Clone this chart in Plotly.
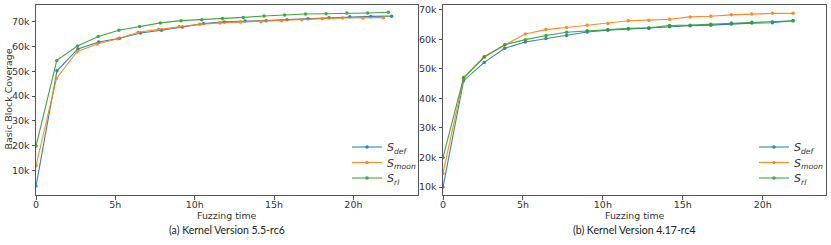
import plotly.graph_objects as go

# ---------------- data ----------------
xt_vals = [0, 5, 10, 15, 20]
xt_text = ["0", "5h", "10h", "15h", "20h"]
yt_vals = [10000, 20000, 30000, 40000, 50000, 60000, 70000]
yt_text = ["10k", "20k", "30k", "40k", "50k", "60k", "70k"]

# (a) Kernel 5.5-rc6
a_t_def = [0, 1.32, 2.64, 3.95, 5.27, 6.59, 7.91, 9.23, 10.55, 11.86, 13.18, 14.5, 15.82, 17.14, 18.46, 19.77, 21.09, 22.41]
a_def = [3800, 50200, 59000, 61800, 63300, 65400, 66500, 67800, 69200, 69900, 70300, 70400, 70800, 71200, 71600, 72000, 72100, 72200]
a_t_moon = [0, 1.29, 2.58, 3.86, 5.15, 6.44, 7.73, 9.02, 10.31, 11.59, 12.88, 14.17, 15.46, 16.75, 18.04, 19.32, 20.61, 21.9]
a_moon = [12000, 47100, 57900, 61000, 63100, 65700, 66900, 68000, 68900, 69500, 69900, 70000, 70400, 70800, 71200, 71500, 71500, 71600]
a_t_rl = [0, 1.31, 2.61, 3.92, 5.22, 6.53, 7.84, 9.14, 10.45, 11.75, 13.06, 14.37, 15.67, 16.98, 18.28, 19.59, 20.9, 22.2]
a_rl = [19900, 54400, 60200, 64000, 66500, 68000, 69500, 70400, 70800, 71300, 71700, 72300, 72700, 73100, 73200, 73500, 73500, 73800]

# (b) Kernel 4.17-rc4
b_t = [0, 1.29, 2.58, 3.86, 5.15, 6.44, 7.73, 9.02, 10.31, 11.59, 12.88, 14.17, 15.46, 16.75, 18.04, 19.32, 20.61, 21.9]
b_def = [10000, 46000, 52200, 57000, 59100, 60300, 61300, 62500, 63100, 63500, 63700, 64300, 64600, 64800, 65200, 65500, 65600, 66300]
b_moon = [14700, 46800, 53900, 58100, 61800, 63300, 64000, 64800, 65400, 66300, 66500, 66800, 67600, 67800, 68300, 68600, 68800, 68800]
b_rl = [20000, 47100, 54100, 58200, 59900, 61300, 62400, 62900, 63300, 63700, 63900, 64700, 64800, 65100, 65500, 65800, 66000, 66300]

names = ["<i>S</i><sub><i>def</i></sub>", "<i>S</i><sub><i>moon</i></sub>", "<i>S</i><sub><i>rl</i></sub>"]
colors = ["#1f77b4", "#ff7f0e", "#2ca02c"]

W, H = 831, 245
fig = go.Figure()

legend_rows = [147, 162.5, 178]   # pixel rows of legend entries
legend_x = {"a": 347, "b": 754}
legfont = dict(family="DejaVu Sans", size=11, color="#333")
legends = {}
counter = [0]

def add(x, y, i, xa, ya, panel):
    counter[0] += 1
    key = "legend" if counter[0] == 1 else "legend%d" % counter[0]
    legends[key] = dict(x=legend_x[panel] / W, y=1 - legend_rows[i] / H, xanchor="left", yanchor="middle",
                        bgcolor="rgba(0,0,0,0)", font=legfont, itemwidth=30)
    fig.add_trace(go.Scatter(
        x=x, y=y, mode="lines+markers", name=names[i],
        line=dict(color=colors[i], width=1.1),
        marker=dict(color=colors[i], size=3.5, symbol="circle"),
        xaxis=xa, yaxis=ya, legend=key, opacity=0.9,
    ))

add(a_t_def, a_def, 0, "x", "y", "a")
add(a_t_moon, a_moon, 1, "x", "y", "a")
add(a_t_rl, a_rl, 2, "x", "y", "a")
add(b_t, b_def, 0, "x2", "y2", "b")
add(b_t, b_moon, 1, "x2", "y2", "b")
add(b_t, b_rl, 2, "x2", "y2", "b")

tickfont = dict(family="DejaVu Sans", size=9.5, color="#333")
frame = dict(showline=True, mirror=True, linecolor="#555", linewidth=1,
             showgrid=False, zeroline=False, ticks="outside", ticklen=3.5,
             tickcolor="#555", tickfont=tickfont, automargin=False)

yd = [1 - 195 / H, 1 - 4.5 / H]
fig.update_layout(
    width=W, height=H, margin=dict(l=0, r=0, t=0, b=0, autoexpand=False),
    paper_bgcolor="white", plot_bgcolor="white",
    xaxis=dict(domain=[36 / W, 418 / W], range=[0, 24.07], tickvals=xt_vals, ticktext=xt_text, anchor="y",
               ticklabelstandoff=-3, **frame),
    yaxis=dict(domain=yd, range=[200, 76900], tickvals=yt_vals, ticktext=yt_text, anchor="x", **frame),
    xaxis2=dict(domain=[443 / W, 826 / W], range=[0, 23.96], tickvals=xt_vals, ticktext=xt_text, anchor="y2",
                ticklabelstandoff=-3, **frame),
    yaxis2=dict(domain=yd, range=[7300, 71800], tickvals=yt_vals, ticktext=yt_text, anchor="x2", **frame),
    showlegend=True,
    **legends,
)

ann_font = dict(family="DejaVu Sans", size=9.4, color="#333")
cap_font = dict(family="Lato", size=10.5, color="#222")
fig.add_annotation(text="Basic Block Coverage", x=8.5 / W, y=1 - 99 / H, xref="paper", yref="paper",
                   textangle=-90, showarrow=False, font=ann_font, xanchor="center", yanchor="middle")
fig.add_annotation(text="Fuzzing time", x=(36 + 418) / 2 / W, y=1 - 215 / H, xref="paper", yref="paper",
                   showarrow=False, font=ann_font, xanchor="center", yanchor="middle")
fig.add_annotation(text="Fuzzing time", x=(443 + 826) / 2 / W, y=1 - 215 / H, xref="paper", yref="paper",
                   showarrow=False, font=ann_font, xanchor="center", yanchor="middle")
fig.add_annotation(text="(a) Kernel Version 5.5-rc6", x=(36 + 418) / 2 / W, y=1 - 230 / H, xref="paper", yref="paper",
                   showarrow=False, font=cap_font, xanchor="center", yanchor="middle")
fig.add_annotation(text="(b) Kernel Version 4.17-rc4", x=(443 + 826) / 2 / W, y=1 - 230 / H, xref="paper", yref="paper",
                   showarrow=False, font=cap_font, xanchor="center", yanchor="middle")

fig.write_html("out.html", config={"displayModeBar": False},
               post_script="document.body.style.margin='0';document.body.style.overflow='hidden';")
